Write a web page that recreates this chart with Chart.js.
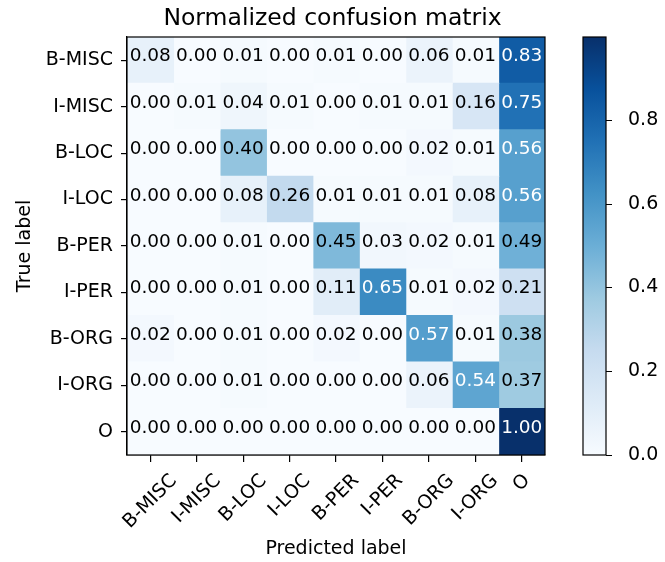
<!DOCTYPE html>
<html>
<head>
<meta charset="utf-8">
<script src="https://cdn.jsdelivr.net/npm/chart.js@4.4.1/dist/chart.umd.min.js"></script>
<style>
  html, body { margin: 0; padding: 0; background: #fff; }
</style>
</head>
<body>
<canvas id="cm" width="665" height="562"></canvas>
<script>
// class names, rows = true label, columns = predicted label
const CLASSES = ["B-MISC", "I-MISC", "B-LOC", "I-LOC", "B-PER", "I-PER", "B-ORG", "I-ORG", "O"];

const ROW_B_MISC = [0.08, 0.00, 0.01, 0.00, 0.01, 0.00, 0.06, 0.01, 0.83];
const ROW_I_MISC = [0.00, 0.01, 0.04, 0.01, 0.00, 0.01, 0.01, 0.16, 0.75];
const ROW_B_LOC  = [0.00, 0.00, 0.40, 0.00, 0.00, 0.00, 0.02, 0.01, 0.56];
const ROW_I_LOC  = [0.00, 0.00, 0.08, 0.26, 0.01, 0.01, 0.01, 0.08, 0.56];
const ROW_B_PER  = [0.00, 0.00, 0.01, 0.00, 0.45, 0.03, 0.02, 0.01, 0.49];
const ROW_I_PER  = [0.00, 0.00, 0.01, 0.00, 0.11, 0.65, 0.01, 0.02, 0.21];
const ROW_B_ORG  = [0.02, 0.00, 0.01, 0.00, 0.02, 0.00, 0.57, 0.01, 0.38];
const ROW_I_ORG  = [0.00, 0.00, 0.01, 0.00, 0.00, 0.00, 0.06, 0.54, 0.37];
const ROW_O      = [0.00, 0.00, 0.00, 0.00, 0.00, 0.00, 0.00, 0.00, 1.00];

const MATRIX = [ROW_B_MISC, ROW_I_MISC, ROW_B_LOC, ROW_I_LOC, ROW_B_PER, ROW_I_PER, ROW_B_ORG, ROW_I_ORG, ROW_O];

const COLORBAR_TICKS = [0, 0.2, 0.4, 0.6, 0.8];
const COLORBAR_MAX = 0.998;
const TEXT_THRESHOLD = 0.5;

const FONT = "'DejaVu Sans', sans-serif";

// matplotlib "Blues"
const BLUES = [
    [247, 251, 255], [222, 235, 247], [198, 219, 239], [158, 202, 225], [107, 174, 214],
    [66, 146, 198], [33, 113, 181], [8, 81, 156], [8, 48, 107],
];

function blues(t) {
    t = Math.max(0, Math.min(1, t));
    const pos = t * (BLUES.length - 1);
    const i = Math.min(Math.floor(pos), BLUES.length - 2);
    const f = pos - i;
    const a = BLUES[i], b = BLUES[i + 1];
    const c = a.map((v, k) => Math.round(v + (b[k] - v) * f));
    return `rgb(${c[0]},${c[1]},${c[2]})`;
}

const datasets = CLASSES.map((_, col) => ({
    data: MATRIX.map(() => [col - 0.5, col + 0.5]),
    backgroundColor: MATRIX.map(row => blues(row[col] / COLORBAR_MAX)),
    borderWidth: 0,
    inflateAmount: 0.6,
    grouped: false,
    barPercentage: 1,
    categoryPercentage: 1,
    xAxisID: "x",
    yAxisID: "y",
}));

const matrixDecor = {
    id: "matrixDecor",
    afterDatasetsDraw(chart) {
        const ctx = chart.ctx;
        const xs = chart.scales.x, ys = chart.scales.y;
        ctx.save();
        ctx.font = `18.5px ${FONT}`;
        ctx.textAlign = "center";
        ctx.textBaseline = "alphabetic";
        MATRIX.forEach((row, r) => {
            row.forEach((v, c) => {
                ctx.fillStyle = v > TEXT_THRESHOLD ? "#fff" : "#000";
                ctx.fillText(v.toFixed(2), xs.getPixelForValue(c), ys.getPixelForValue(r) + 1);
            });
        });
        ctx.restore();
    },
    afterDraw(chart) {
        const ctx = chart.ctx;
        const area = chart.chartArea;
        const xs = chart.scales.x;
        const cb = chart.scales.cb;
        ctx.save();

        // frame around the matrix
        ctx.strokeStyle = "#000";
        ctx.lineWidth = 1.2;
        ctx.strokeRect(area.left, area.top, area.right - area.left, area.bottom - area.top);

        // rotated x tick labels, bounding box centred on tick
        ctx.font = `19px ${FONT}`;
        ctx.fillStyle = "#000";
        ctx.textAlign = "center";
        ctx.textBaseline = "middle";
        const y0 = area.bottom + 15;
        const h = 19 * 1.16;
        CLASSES.forEach((name, i) => {
            const w = ctx.measureText(name).width;
            const half = (w + h) * Math.SQRT1_2 / 2;
            ctx.save();
            ctx.translate(xs.getPixelForValue(i), y0 + half);
            ctx.rotate(-Math.PI / 4);
            ctx.fillText(name, 0, 0);
            ctx.restore();
        });

        // colorbar
        const cbLeft = area.right + 38;
        const cbWidth = 23;
        const yBottom = cb.getPixelForValue(0);
        const yTop = cb.getPixelForValue(COLORBAR_MAX);
        const grad = ctx.createLinearGradient(0, yBottom, 0, yTop);
        BLUES.forEach((c, i) => grad.addColorStop(i / (BLUES.length - 1), `rgb(${c[0]},${c[1]},${c[2]})`));
        ctx.fillStyle = grad;
        ctx.fillRect(cbLeft, yTop, cbWidth, yBottom - yTop);
        ctx.strokeStyle = "#000";
        ctx.lineWidth = 1.2;
        ctx.strokeRect(cbLeft, yTop, cbWidth, yBottom - yTop);
        ctx.beginPath();
        COLORBAR_TICKS.forEach(v => {
            const y = Math.round(cb.getPixelForValue(v)) + 0.5;
            ctx.moveTo(cbLeft + cbWidth, y);
            ctx.lineTo(cbLeft + cbWidth + 6, y);
        });
        ctx.stroke();
        ctx.restore();
    },
};

new Chart(document.getElementById("cm"), {
    type: "bar",
    data: { labels: CLASSES, datasets },
    plugins: [matrixDecor],
    options: {
        indexAxis: "y",
        responsive: false,
        animation: false,
        devicePixelRatio: 1,
        layout: { padding: 0 },
        plugins: {
            legend: { display: false },
            tooltip: { enabled: false },
            title: {
                display: true,
                text: "Normalized confusion matrix",
                color: "#000",
                font: { family: FONT, size: 23.5, weight: "normal" },
                padding: { top: 5, bottom: 3.8 },
            },
        },
        scales: {
            x: {
                type: "linear",
                position: "bottom",
                min: -0.5,
                max: 8.5,
                afterBuildTicks: s => { s.ticks = CLASSES.map((_, i) => ({ value: i })); },
                ticks: { display: false },
                grid: { display: true, drawOnChartArea: false, tickLength: 7, color: "#000", lineWidth: 1.2 },
                border: { display: true, color: "#000", width: 1.2 },
                title: {
                    display: true,
                    text: "Predicted label",
                    color: "#000",
                    font: { family: FONT, size: 19 },
                    padding: { top: 0, bottom: 2 },
                },
                afterFit: s => { s.height = 107; s.paddingLeft = 0; s.paddingRight = 0; },
            },
            y: {
                type: "category",
                position: "left",
                offset: true,
                grid: { display: true, offset: false, drawOnChartArea: false, tickLength: 6, color: "#000", lineWidth: 1.2 },
                border: { display: true, color: "#000", width: 1.2 },
                ticks: { color: "#000", font: { family: FONT, size: 19 }, padding: 8 },
                title: {
                    display: true,
                    text: "True label",
                    color: "#000",
                    font: { family: FONT, size: 19 },
                    padding: { top: 14, bottom: 0 },
                },
                afterFit: s => { s.width = 127; s.paddingTop = 0; s.paddingBottom = 0; },
            },
            cb: {
                type: "linear",
                position: "right",
                offset: false,
                min: 0,
                max: COLORBAR_MAX,
                afterBuildTicks: s => { s.ticks = COLORBAR_TICKS.map(v => ({ value: v })); },
                ticks: {
                    color: "#000",
                    font: { family: FONT, size: 19 },
                    padding: 75,
                    callback: v => Number(v).toFixed(1),
                },
                grid: { display: false },
                border: { display: false },
                afterFit: s => { s.width = 120; s.paddingTop = 0; s.paddingBottom = 0; },
            },
        },
    },
});
</script>
</body>
</html>
